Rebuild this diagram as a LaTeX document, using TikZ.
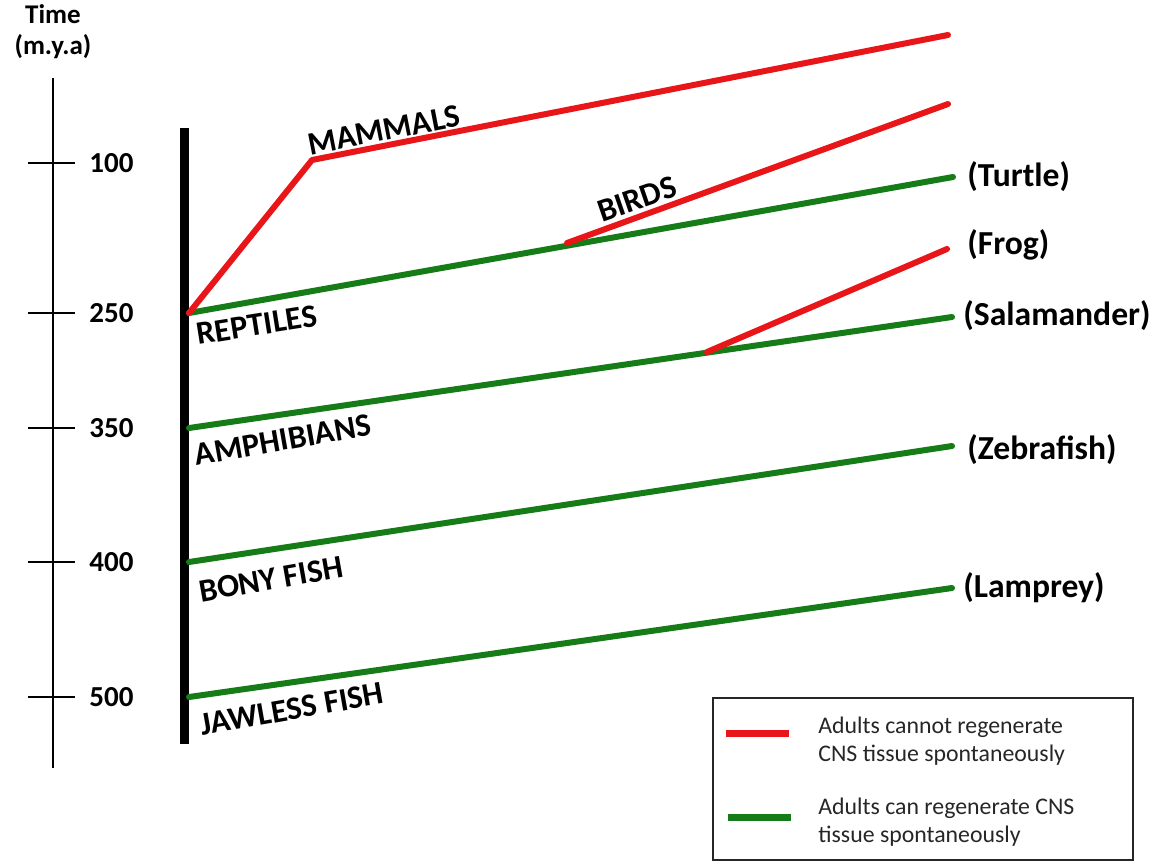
\documentclass[tikz,border=0pt]{standalone}
\usepackage{fontspec}
\setmainfont{Carlito}
\usepackage{xcolor}
\usetikzlibrary{positioning, calc}
\definecolor{lossred}{RGB}{232,22,24}
\definecolor{regengreen}{RGB}{22,124,24}
\tikzset{
  lossline/.style={line width=3pt, lossred, line cap=round},
  regenline/.style={line width=3pt, regengreen, line cap=round},
  clade/.style={font=\fontsize{16.3}{18}\selectfont\bfseries, inner sep=0pt},
  species/.style={font=\fontsize{16.8}{19}\selectfont\bfseries, anchor=west, inner sep=0pt},
  tick/.style={font=\fontsize{14.5}{16}\selectfont\bfseries, anchor=west, inner sep=0pt},
  legendtxt/.style={font=\fontsize{11.9}{14}\selectfont, text=black!85, align=left, anchor=west, inner sep=0pt}
}

\begin{document}
\begin{tikzpicture}[x=0.5pt,y=-0.5pt]
    \useasboundingbox (0,0) rectangle (1165,863);
    % time axis
    \node[font=\fontsize{13.5}{15.5}\selectfont\bfseries, align=center] (timelab) at (53,32) {Time\\(m.y.a)};
    \coordinate (axtop) at (53,78);
    \coordinate (axbot) at (53,768);
    \draw[line width=1.3pt] (axtop) -- (axbot);
    \foreach \y/\lab in {163/100,313/250,428/350,562/400,697/500}{
        \draw[line width=1.3pt] (28,\y) -- (75,\y);
        \node[tick] (t\lab) at (89,\y) {\lab};
    }
    % main trunk
    \coordinate (trunktop) at (184,128);
    \coordinate (trunkbot) at (184,744);
    \draw[line width=4.5pt] (trunktop) -- (trunkbot);
    % branch points
    \coordinate (rep) at (189,313);
    \coordinate (mam) at (312,160);
    \coordinate (birdfork) at (567,243);
    \coordinate (amph) at (189,428);
    \coordinate (frogfork) at (707,352);
    \coordinate (bony) at (189,562);
    \coordinate (jaw) at (189,697);
    % tips
    \coordinate (mamtip) at (948,35);
    \coordinate (birdtip) at (948,104);
    \coordinate (turtletip) at (953,177);
    \coordinate (frogtip) at (947,249);
    \coordinate (salatip) at (952,317);
    \coordinate (zebratip) at (952,446);
    \coordinate (lamptip) at (952,588);
    % lineages
    \draw[regenline] (rep) -- (turtletip);
    \draw[regenline] (amph) -- (salatip);
    \draw[regenline] (bony) -- (zebratip);
    \draw[regenline] (jaw) -- (lamptip);
    \draw[lossline, line join=round] (rep) -- (mam) -- (mamtip);
    \draw[lossline] (birdfork) -- (birdtip);
    \draw[lossline] (frogfork) -- (frogtip);
    % clade names
    \node[clade, rotate=11] (mammals) at (384,130) {MAMMALS};
    \node[clade, rotate=19] (birds) at (637,199) {BIRDS};
    \node[clade, rotate=9] (reptiles) at (257,325) {REPTILES};
    \node[clade, rotate=10] (amphibians) at (283,440) {AMPHIBIANS};
    \node[clade, rotate=10] (bonyfish) at (271,579) {BONY FISH};
    \node[clade, rotate=10] (jawless) at (292,709) {JAWLESS FISH};
    % species
    \node[species] (turtle) at (967,177) {(Turtle)};
    \node[species] (frog) at (967,245) {(Frog)};
    \node[species] (salamander) at (963,316) {(Salamander)};
    \node[species] (zebrafish) at (967,450) {(Zebrafish)};
    \node[species] (lamprey) at (963,588) {(Lamprey)};
    % legend
    \draw[line width=1.1pt, black!85] (713,698) rectangle (1133,860);
    \draw[line width=3.5pt, lossred] (726,733) -- (789,733);
    \draw[line width=3.5pt, regengreen] (728,817) -- (791,817);
    \node[legendtxt] (keyloss) at (818,741) {Adults cannot regenerate\\CNS tissue spontaneously};
    \node[legendtxt] (keyregen) at (818,822) {Adults can regenerate CNS\\tissue spontaneously};
\end{tikzpicture}
\end{document}
